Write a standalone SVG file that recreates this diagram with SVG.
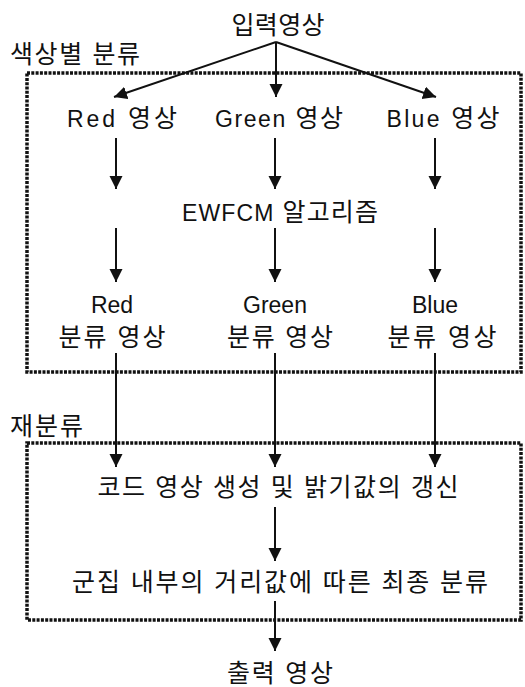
<svg xmlns="http://www.w3.org/2000/svg" width="525" height="687" viewBox="0 0 525 687">
<style>
text{font-family:"Liberation Sans","Noto Sans CJK KR",sans-serif;font-size:25px;fill:#111;}
.c{text-anchor:middle;}
.l{font-size:23px;}
.box{fill:none;stroke:#111;stroke-width:3.5;stroke-dasharray:3 1.3;}
.ln{fill:none;stroke:#111;stroke-width:2;}
</style>
<defs>
<marker id="ah" markerUnits="userSpaceOnUse" markerWidth="14" markerHeight="14" viewBox="0 0 14 14" refX="13" refY="6.5" orient="auto">
<path d="M0,0 L13,6.5 L0,13 Z" fill="#111"/>
</marker>
</defs>
<rect width="525" height="687" fill="#fff"/>
<g id="group1"><rect class="box" x="27" y="73" width="494" height="299"/><text x="10" y="63" textLength="130">색상별 분류</text></g>
<g id="group2"><rect class="box" x="27" y="443" width="494" height="177"/><text x="10" y="435" textLength="73">재분류</text></g>
<g id="connectors">
<path class="ln" d="M276,42 L114,97" marker-end="url(#ah)"/>
<path class="ln" d="M276,42 L276,97" marker-end="url(#ah)"/>
<path class="ln" d="M276,42 L436,97" marker-end="url(#ah)"/>
<path class="ln" d="M116,138 L116,189" marker-end="url(#ah)"/>
<path class="ln" d="M275,138 L275,189" marker-end="url(#ah)"/>
<path class="ln" d="M435,138 L435,189" marker-end="url(#ah)"/>
<path class="ln" d="M116,228 L116,282" marker-end="url(#ah)"/>
<path class="ln" d="M275,228 L275,282" marker-end="url(#ah)"/>
<path class="ln" d="M435,228 L435,282" marker-end="url(#ah)"/>
<path class="ln" d="M116,353 L116,467" marker-end="url(#ah)"/>
<path class="ln" d="M275,353 L275,467" marker-end="url(#ah)"/>
<path class="ln" d="M435,353 L435,467" marker-end="url(#ah)"/>
<path class="ln" d="M275,507 L275,561" marker-end="url(#ah)"/>
<path class="ln" d="M275,601 L275,651" marker-end="url(#ah)"/>
</g>
<g id="input"><text class="c" x="278" y="34" textLength="93">입력영상</text></g>
<g id="red"><text class="c" x="122" y="127" textLength="110"><tspan class="l">Red</tspan> 영상</text></g>
<g id="green"><text class="c" x="279" y="127" textLength="128"><tspan class="l">Green</tspan> 영상</text></g>
<g id="blue"><text class="c" x="443" y="127" textLength="113"><tspan class="l">Blue</tspan> 영상</text></g>
<g id="ewfcm"><text class="c" x="280" y="221" textLength="196"><tspan class="l">EWFCM</tspan> 알고리즘</text></g>
<g id="redcls"><text class="c l" x="112" y="313">Red</text><text class="c" x="112" y="346" textLength="107">분류 영상</text></g>
<g id="greencls"><text class="c l" x="275" y="313">Green</text><text class="c" x="280" y="346" textLength="106">분류 영상</text></g>
<g id="bluecls"><text class="c l" x="435" y="313">Blue</text><text class="c" x="442" y="346" textLength="109">분류 영상</text></g>
<g id="code"><text class="c" x="278" y="496" textLength="361">코드 영상 생성 및 밝기값의 갱신</text></g>
<g id="final"><text class="c" x="280" y="591" textLength="416">군집 내부의 거리값에 따른 최종 분류</text></g>
<g id="output"><text class="c" x="280" y="682" textLength="106">출력 영상</text></g>
</svg>
